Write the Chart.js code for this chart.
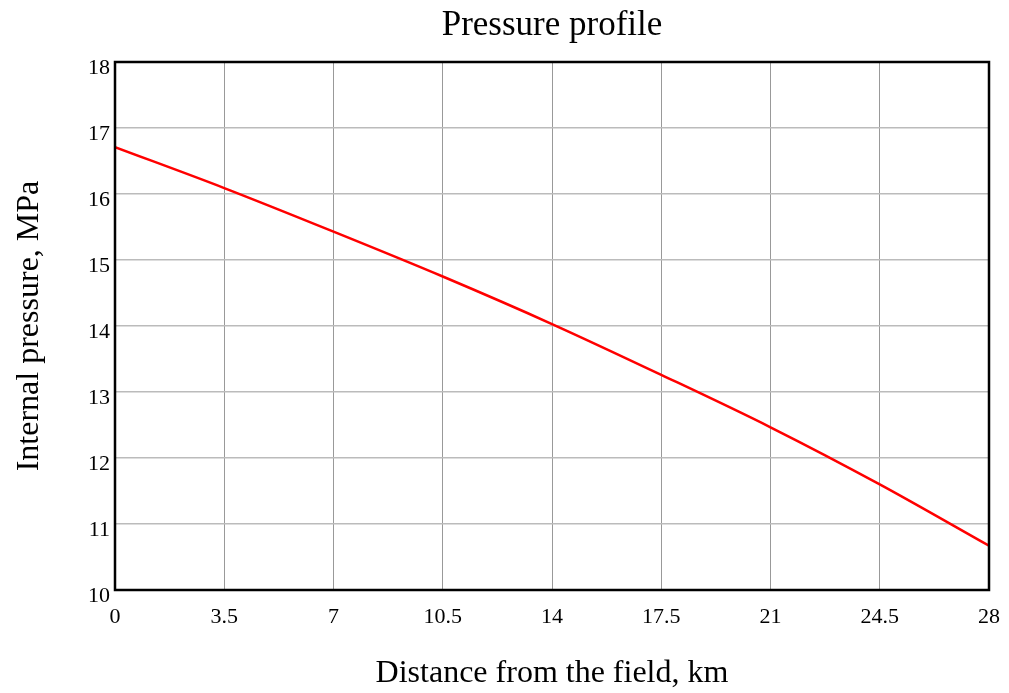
<!DOCTYPE html>
<html>
<head>
<meta charset="utf-8">
<script src="https://cdn.jsdelivr.net/npm/chart.js@4.4.1/dist/chart.umd.min.js"></script>
<style>
html,body{margin:0;padding:0;background:#fff;}
#wrap{width:1009px;height:693px;position:relative;}
</style>
</head>
<body>
<div id="wrap"><canvas id="c" width="1009" height="693"></canvas></div>
<script>
const distanceKm = [0, 3.5, 7, 10.5, 14, 17.5, 21, 24.5, 28];
const pressureMPa = [16.71, 16.09, 15.43, 14.75, 14.03, 13.26, 12.465, 11.60, 10.67];
const xTicks = [0, 3.5, 7, 10.5, 14, 17.5, 21, 24.5, 28];
const yTicks = [10, 11, 12, 13, 14, 15, 16, 17, 18];
const chartTitle = 'Pressure profile';

const FONT = "'Liberation Serif', 'Times New Roman', serif";

const frame = {
  id: 'frame',
  afterDatasetsDraw(chart) {
    const a = chart.chartArea, ctx = chart.ctx;
    ctx.save();
    ctx.strokeStyle = '#000';
    ctx.lineWidth = 2.5;
    ctx.strokeRect(a.left, a.top, a.right - a.left, a.bottom - a.top);
    ctx.restore();
  },
  afterDraw(chart) {
    const a = chart.chartArea, ctx = chart.ctx;
    ctx.save();
    ctx.fillStyle = '#000';
    ctx.font = '35px ' + FONT;
    ctx.textAlign = 'center';
    ctx.textBaseline = 'alphabetic';
    ctx.fillText(chartTitle, (a.left + a.right) / 2, 35);
    ctx.restore();
  }
};

new Chart(document.getElementById('c'), {
  type: 'line',
  data: {
    datasets: [{
      data: distanceKm.map((x, i) => ({x: x, y: pressureMPa[i]})),
      borderColor: '#ff0000',
      borderWidth: 2.5,
      pointRadius: 0,
      cubicInterpolationMode: 'monotone',
      fill: false
    }]
  },
  options: {
    responsive: false,
    animation: false,
    layout: {padding: {left: 0, right: 20, top: 62, bottom: 0}},
    plugins: {
      legend: {display: false},
      tooltip: {enabled: false},
      title: {display: false}
    },
    scales: {
      x: {
        type: 'linear',
        min: 0, max: 28,
        afterBuildTicks: s => { s.ticks = xTicks.map(v => ({value: v})); },
        afterFit: s => { s.height = 103; s.paddingLeft = 0; s.paddingRight = 0; },
        grid: {color: '#999', lineWidth: 1, drawTicks: false},
        border: {display: false},
        ticks: {
          color: '#000', padding: 14, maxRotation: 0, autoSkip: false,
          font: {family: FONT, size: 22},
          callback: v => String(v)
        },
        title: {
          display: true, text: 'Distance from the field, km', color: '#000',
          font: {family: FONT, size: 32, lineHeight: 1.2},
          padding: {top: 0, bottom: 0}
        }
      },
      y: {
        type: 'linear',
        min: 10, max: 18,
        afterBuildTicks: s => { s.ticks = yTicks.map(v => ({value: v})); },
        afterFit: s => { s.width = 115; s.paddingTop = 0; s.paddingBottom = 0; },
        grid: {color: '#bbb', lineWidth: 1.5, drawTicks: false},
        border: {display: false},
        ticks: {
          color: '#000', padding: 5, labelOffset: 6, autoSkip: false,
          font: {family: FONT, size: 22},
          callback: v => String(v)
        },
        title: {
          display: true, text: 'Internal pressure, MPa', color: '#000',
          font: {family: FONT, size: 32, lineHeight: 1.2},
          padding: {top: 10, bottom: 0}
        }
      }
    }
  },
  plugins: [frame]
});
</script>
</body>
</html>
